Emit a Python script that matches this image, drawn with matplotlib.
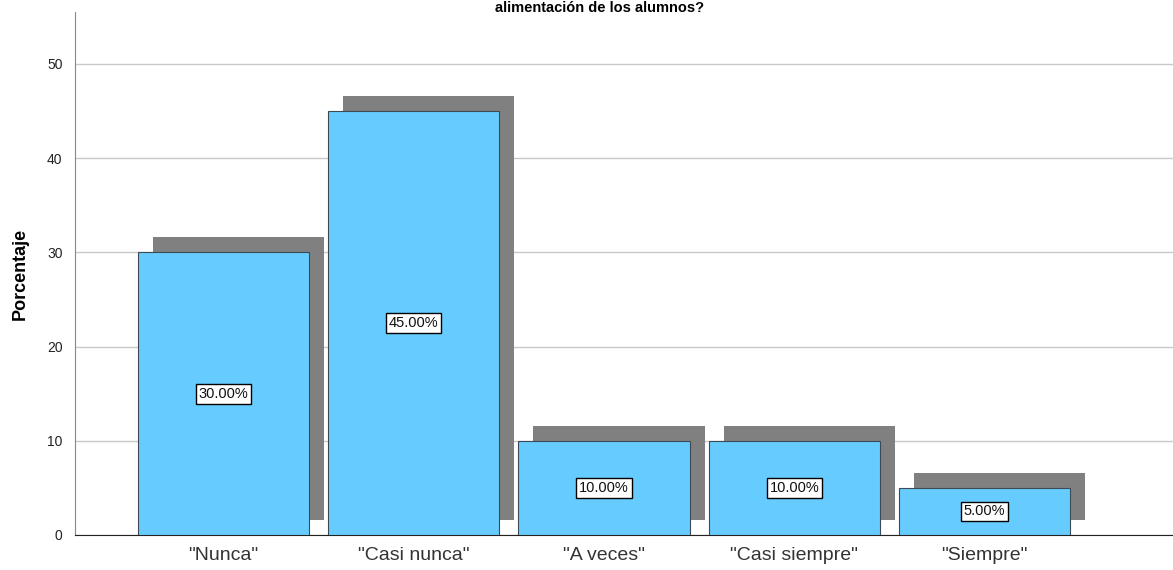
import matplotlib
matplotlib.use("Agg")
import matplotlib.pyplot as plt
import numpy as np

plt.rcParams['font.family'] = ['Liberation Sans', 'DejaVu Sans']

categories = ['"Nunca"', '"Casi nunca"', '"A veces"', '"Casi siempre"', '"Siempre"']
percentages = [30.0, 45.0, 10.0, 10.0, 5.0]
yticks = [0, 10, 20, 30, 40, 50]
title = "alimentación de los alumnos?"
ylabel = "Porcentaje"

fig = plt.figure(figsize=(11.73, 5.70), dpi=100)
ax = fig.add_axes([75/1173, 35/570, 1 - 75/1173, (535-12)/570])

x = np.arange(len(categories))
width = 0.9
# shadow offset: ~15 px right and up
dx = 15 / 190.3
dy = 15 / 9.42
ax.bar(x + dx, percentages, width=width, bottom=dy, color="#808080", zorder=2)
ax.bar(x, percentages, width=width, color="#66CCFF", edgecolor="#3c4a55", linewidth=0.8, zorder=3)

for xi, v in zip(x, percentages):
    ax.text(xi, v / 2, f"{v:.2f}%", ha="center", va="center", fontsize=10.5, zorder=5,
            color="#111111",
            bbox=dict(boxstyle="square,pad=0.2", facecolor="white", edgecolor="black", linewidth=1))

ax.set_xlim(-0.78, 4.99)
ax.set_ylim(0, 55.5)
ax.set_xticks(x)
ax.set_xticklabels(categories, fontsize=14, color="#333333")
ax.set_yticks(yticks)
ax.set_yticklabels([str(t) for t in yticks], fontsize=10, color="#222222")
ax.tick_params(axis="y", length=0, pad=9)
ax.tick_params(axis="x", length=0, pad=9)
ax.yaxis.grid(True, color="#c8c8c8", linewidth=1, zorder=0)
ax.set_axisbelow(True)
for s in ["top", "right"]:
    ax.spines[s].set_visible(False)
ax.spines["left"].set_color("#888888")
ax.spines["bottom"].set_color("#222222")
ax.set_ylabel(ylabel, fontsize=13, fontweight="bold", labelpad=13)

fig.text(600/1173, 1.0 - 1/570, title, ha="center", va="top", fontsize=10.5, fontweight="bold")

fig.savefig("out.png", dpi=100)
